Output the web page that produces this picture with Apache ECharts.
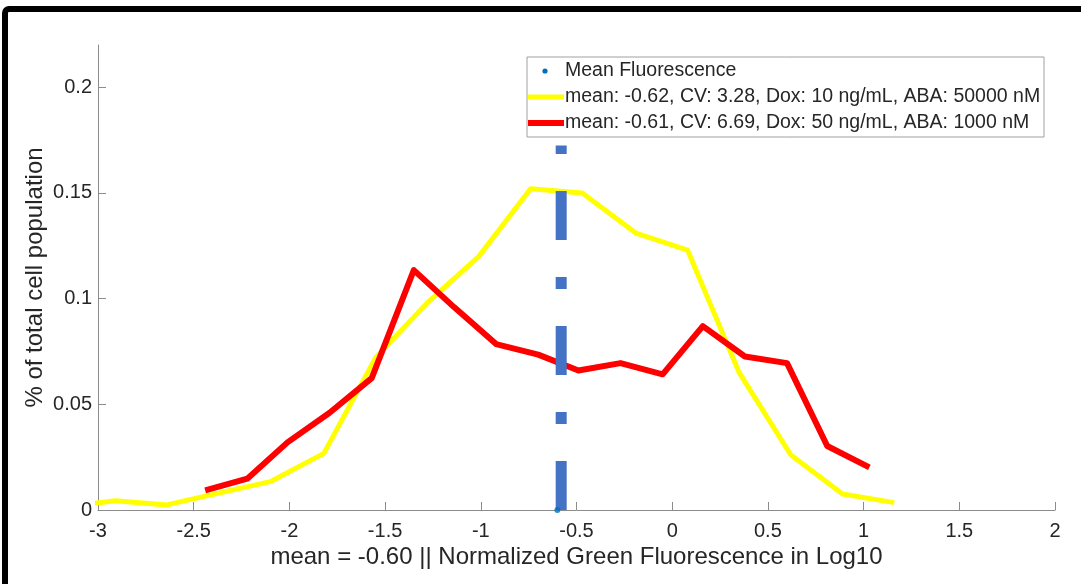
<!DOCTYPE html>
<html><head><meta charset="utf-8">
<script src="https://cdn.jsdelivr.net/npm/echarts@6/dist/echarts.min.js"></script>
<style>html,body{margin:0;padding:0;background:#fff}#c{width:1081px;height:584px}</style>
</head><body><div id="c"></div>
<script>
// ---- data ----
const yellowX = [-3.18, -2.91, -2.64, -2.37, -2.10, -1.82, -1.55, -1.28, -1.01, -0.74, -0.47, -0.19, 0.08, 0.35, 0.62, 0.89, 1.16];
const yellowY = [0.0012, 0.0044, 0.0024, 0.0080, 0.0134, 0.0268, 0.0720, 0.0980, 0.1200, 0.1520, 0.1500, 0.1310, 0.1230, 0.0650, 0.0260, 0.0076, 0.0035];
const redX = [-2.44, -2.22, -2.01, -1.79, -1.57, -1.35, -1.14, -0.92, -0.70, -0.49, -0.27, -0.05, 0.16, 0.38, 0.60, 0.81, 1.03];
const redY = [0.0093, 0.0148, 0.0320, 0.0460, 0.0624, 0.1135, 0.0960, 0.0785, 0.0735, 0.0660, 0.0695, 0.0642, 0.0870, 0.0726, 0.0695, 0.0303, 0.0202];
const meanValue = -0.60;
const meanLineX = -0.58;
const meanLineTop = 0.1725;
const xTicks = [-3, -2.5, -2, -1.5, -1, -0.5, 0, 0.5, 1, 1.5, 2];
const yTicks = [0, 0.05, 0.1, 0.15, 0.2];
const legendLabels = [
  'Mean Fluorescence',
  'mean: -0.62, CV: 3.28, Dox: 10 ng/mL, ABA: 50000 nM',
  'mean: -0.61, CV: 6.69, Dox: 50 ng/mL, ABA: 1000 nM'
];
const xTitle = 'mean = -0.60 || Normalized Green Fluorescence in Log10';
const yTitle = '% of total cell population';

const FONT = "'Liberation Sans', Arial, Helvetica, sans-serif";
const TXT = '#262626';
const AX = '#8c8c8c';
const YELLOW = '#FFFF00', RED = '#FF0000', BLUE = '#4472C4', DOT = '#0072BD';

const chart = echarts.init(document.getElementById('c'), null, {renderer: 'canvas'});

const zip = (xs, ys) => xs.map((x, i) => [x, ys[i]]);

const lgX = 527, lgY = 57, lgW = 517, lgH = 80, rowH = 26;
const legendGraphics = [
  {type: 'rect', shape: {x: lgX, y: lgY, width: lgW, height: lgH}, style: {fill: '#fff', stroke: '#a0a0a0', lineWidth: 1}, z: 100},
  {type: 'circle', shape: {cx: 545, cy: lgY + 14, r: 2.6}, style: {fill: DOT}, z: 101},
  {type: 'line', shape: {x1: 528, y1: lgY + 14 + rowH, x2: 564, y2: lgY + 14 + rowH}, style: {stroke: YELLOW, lineWidth: 5}, z: 101},
  {type: 'line', shape: {x1: 528, y1: lgY + 14 + 2 * rowH, x2: 564, y2: lgY + 14 + 2 * rowH}, style: {stroke: RED, lineWidth: 6}, z: 101}
].concat(legendLabels.map((t, i) => ({
  type: 'text', x: 565, y: lgY + 14 + i * rowH, z: 101,
  style: {text: t, fill: TXT, font: "19.5px " + FONT, textVerticalAlign: 'middle', textAlign: 'left'}
})));

const frame = {type: 'rect', shape: {x: 5, y: 9, width: 1200, height: 800, r: 4}, style: {fill: 'none', stroke: '#000', lineWidth: 6}, z: 200};

chart.setOption({
  animation: false,
  backgroundColor: '#fff',
  grid: {left: 98, right: 26, top: 45, bottom: 74, containLabel: false},
  xAxis: {
    type: 'value', min: -3, max: 2, interval: 0.5,
    axisLine: {show: true, onZero: false, lineStyle: {color: AX, width: 1}},
    axisTick: {show: true, inside: true, length: 8, lineStyle: {color: AX}, customValues: xTicks},
    axisLabel: {color: TXT, fontSize: 20, fontFamily: FONT, margin: 11, customValues: xTicks},
    splitLine: {show: false},
    name: xTitle, nameLocation: 'middle', nameGap: 35, nameMoveOverlap: false,
    nameTextStyle: {color: TXT, fontSize: 24, fontFamily: FONT}
  },
  yAxis: {
    type: 'value', min: 0, max: 0.22,
    axisLine: {show: true, onZero: false, lineStyle: {color: AX, width: 1}},
    axisTick: {show: true, inside: true, length: 8, lineStyle: {color: AX}, customValues: yTicks},
    axisLabel: {color: TXT, fontSize: 20, fontFamily: FONT, margin: 6, customValues: yTicks},
    splitLine: {show: false},
    name: yTitle, nameLocation: 'middle', nameGap: 51, nameRotate: 90, nameMoveOverlap: false,
    nameTextStyle: {color: TXT, fontSize: 24, fontFamily: FONT}
  },
  series: [
    {
      name: legendLabels[1], type: 'line', data: zip(yellowX, yellowY),
      showSymbol: false, clip: true, z: 3,
      lineStyle: {color: YELLOW, width: 5, join: 'round'}
    },
    {
      name: legendLabels[2], type: 'line', data: zip(redX, redY),
      showSymbol: false, clip: true, z: 4,
      lineStyle: {color: RED, width: 6, join: 'round'}
    },
    {
      name: 'meanLine', type: 'line', data: [[meanLineX, 0], [meanLineX, meanLineTop]],
      showSymbol: false, clip: false, z: 5,
      lineStyle: {color: BLUE, width: 11, type: [49, 37, 12, 37], cap: 'butt'}
    },
    {
      name: legendLabels[0], type: 'scatter', data: [[meanValue, 0]],
      symbol: 'circle', symbolSize: 6, clip: false, z: 6,
      itemStyle: {color: DOT}
    }
  ],
  graphic: legendGraphics.concat([frame])
});
</script>
</body></html>
